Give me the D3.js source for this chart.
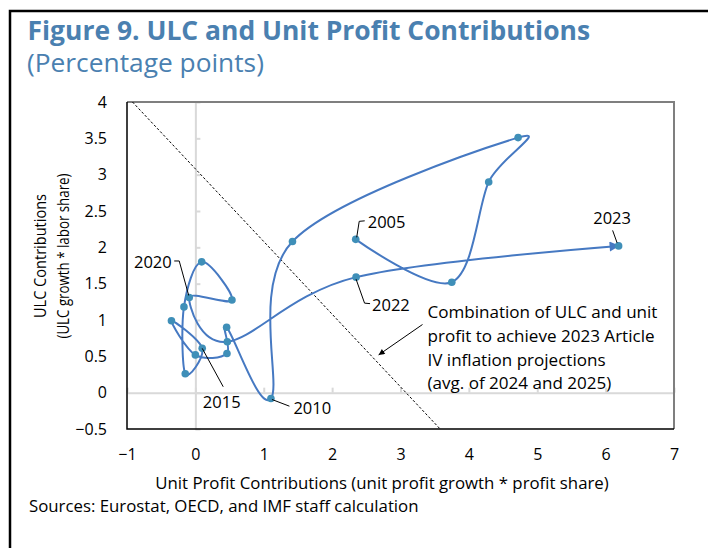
<!DOCTYPE html>
<meta charset="utf-8">
<style>

body {
  margin: 0;
  background: #fff;
}

svg {
  display: block;
  font-family: "Open Sans", sans-serif;
}

.frame {
  fill: none;
  stroke: #000;
  stroke-width: 2.5px;
}

.title {
  fill: #4a80b0;
  font-weight: bold;
  font-size: 23px;
}

.subtitle {
  fill: #4a80b0;
  font-size: 24px;
}

.axis text {
  font-size: 16px;
  fill: #000;
  font-family: "Open Sans", sans-serif;
}

.inner path,
.inner line {
  stroke: #d9d9d9;
  stroke-width: 2px;
}

.path-line {
  fill: none;
  stroke: #4679c2;
  stroke-width: 2px;
}

.dot {
  fill: #3f8fb8;
}

.target {
  fill: none;
  stroke: #000;
  stroke-width: 1px;
  stroke-dasharray: 2.5,2;
}

.leader {
  fill: none;
  stroke: #000;
  stroke-width: 1px;
}

.label {
  font-size: 16px;
  fill: #000;
}

</style>
<body>
<svg width="708" height="548"></svg>
<script src="https://d3js.org/d3.v7.min.js"></script>
<script>

// data (x = unit profit contribution, y = ULC contribution)
var years = [2005, 2006, 2007, 2008, 2009, 2010, 2011, 2012, 2013, 2014,
             2015, 2016, 2017, 2018, 2019, 2020, 2021, 2022, 2023];
var profitContrib = [2.345, 3.75, 4.29, 4.72, 1.42, 1.105, 0.457, 0.462, 0.00, -0.35,
                     0.10, -0.148, -0.167, 0.092, 0.535, -0.09, 0.467, 2.35, 6.19];
var ulcContrib = [2.11, 1.52, 2.90, 3.51, 2.08, -0.08, 0.90, 0.54, 0.52, 0.99,
                  0.61, 0.26, 1.18, 1.80, 1.275, 1.31, 0.70, 1.59, 2.02];

var xTicks = [-1, 0, 1, 2, 3, 4, 5, 6, 7];
var yTicks = [-0.5, 0, 0.5, 1, 1.5, 2, 2.5, 3, 3.5, 4];

// combinations consistent with the projection (x + y ~ 3.08)
var targetX = [-0.92, 3.58];
var targetY = [4, -0.5];

var labelledYears = [2005, 2010, 2015, 2020, 2022, 2023];
var noteLines = ["Combination of ULC and unit",
                 "profit to achieve 2023 Article",
                 "IV inflation projections",
                 "(avg. of 2024 and 2025)"];

var svg = d3.select("svg");

var plot = {left: 127, right: 674, top: 102, bottom: 429};

var x = d3.scaleLinear().domain([-1, 7]).range([plot.left, plot.right]);
var y = d3.scaleLinear().domain([-0.5, 4]).range([plot.bottom, plot.top]);

// shrink/grow a text so it covers the width it has in the original
function fit(sel, width) {
  var w = sel.node().getComputedTextLength();
  var fs = parseFloat(sel.style("font-size"));
  sel.style("font-size", (fs * width / w) + "px");
  return fs * width / w;
}

// outer frame (only left and top visible)
svg.append("path")
    .attr("class", "frame")
    .attr("d", "M10,560V11H720");

fit(svg.append("text")
    .attr("class", "title")
    .attr("x", 27.5)
    .attr("y", 39.5)
    .text("Figure 9. ULC and Unit Profit Contributions"), 563);

fit(svg.append("text")
    .attr("class", "subtitle")
    .attr("x", 27)
    .attr("y", 72)
    .text("(Percentage points)"), 237);

// axes through the origin
svg.append("g")
    .attr("class", "inner")
    .attr("transform", "translate(0," + y(0) + ")")
    .call(d3.axisTop(x).tickValues(xTicks).tickSize(5).tickSizeOuter(0).tickFormat(""));

svg.append("g")
    .attr("class", "inner")
    .attr("transform", "translate(" + x(0) + ",0)")
    .call(d3.axisRight(y).tickValues(yTicks).tickSize(5).tickSizeOuter(0).tickFormat(""));

// tick labels sit outside the plot
var yAxis = svg.append("g")
    .attr("class", "axis")
    .attr("transform", "translate(" + plot.left + ",0)")
    .call(d3.axisLeft(y).tickValues(yTicks).tickSize(0).tickPadding(20).tickFormat(d3.format("")));
yAxis.select(".domain").remove();

var xAxis = svg.append("g")
    .attr("class", "axis")
    .attr("transform", "translate(0," + plot.bottom + ")")
    .call(d3.axisBottom(x).tickValues(xTicks).tickSize(0).tickPadding(20).tickFormat(d3.format("")));
xAxis.select(".domain").remove();

// plot border
svg.append("path")
    .attr("d", "M" + plot.left + "," + plot.top + "H" + plot.right + "V" + plot.bottom)
    .attr("fill", "none")
    .attr("stroke", "#7f7f7f")
    .attr("stroke-width", 2);
svg.append("path")
    .attr("d", "M" + plot.left + "," + plot.top + "V" + plot.bottom + "H" + plot.right)
    .attr("fill", "none")
    .attr("stroke", "#000")
    .attr("stroke-width", 1.5);

// dashed projection line
svg.append("path")
    .attr("class", "target")
    .attr("d", d3.line()(targetX.map(function(v, i) { return [x(v), y(targetY[i])]; })));

// arrow heads
var defs = svg.append("defs");
defs.append("marker")
    .attr("id", "head")
    .attr("viewBox", "0 0 10 10")
    .attr("refX", 9)
    .attr("refY", 5)
    .attr("markerUnits", "userSpaceOnUse")
    .attr("markerWidth", 13)
    .attr("markerHeight", 10)
    .attr("orient", "auto")
  .append("path")
    .attr("d", "M0,0L10,5L0,10z")
    .attr("fill", "#4679c2");
defs.append("marker")
    .attr("id", "blackhead")
    .attr("viewBox", "0 0 10 10")
    .attr("refX", 10)
    .attr("refY", 5)
    .attr("markerUnits", "userSpaceOnUse")
    .attr("markerWidth", 8)
    .attr("markerHeight", 6)
    .attr("orient", "auto")
  .append("path")
    .attr("d", "M0,0L10,5L0,10z")
    .attr("fill", "#000");

var pts = years.map(function(yr, i) {
  return {year: yr, px: x(profitContrib[i]), py: y(ulcContrib[i])};
});

// Excel-style smoothed line
svg.append("path")
    .attr("class", "path-line")
    .attr("marker-end", "url(#head)")
    .attr("d", d3.line()
      .x(function(d) { return d.px; })
      .y(function(d) { return d.py; })
      .curve(d3.curveCardinal.tension(0))(pts));

svg.selectAll(".dot")
    .data(pts)
  .enter().append("circle")
    .attr("class", "dot")
    .attr("cx", function(d) { return d.px; })
    .attr("cy", function(d) { return d.py; })
    .attr("r", 3.8);

// year labels: leader path and text, relative to the point
var labelPos = {
  2005: {leader: [[1, -2], [3.5, -18], [9, -18.5]], tx: 12, ty: -17, anchor: "start"},
  2010: {leader: [[1, 1], [18.5, 7.7]], tx: 22.5, ty: 10, anchor: "start"},
  2015: {leader: [[0, 0], [21, 38.4]], tx: 19.5, ty: 53.5, anchor: "middle"},
  2020: {leader: [[-0.5, -2], [-10, -36.5], [-15, -36.5]], tx: -17.5, ty: -35.5, anchor: "end"},
  2022: {leader: [[0, 2], [8.5, 26], [14, 26.5]], tx: 16, ty: 28.5, anchor: "start"},
  2023: {leader: [[-1.5, -3], [-6, -15.5]], tx: -6.5, ty: -28, anchor: "middle"}
};

var labelled = pts.filter(function(d) { return labelledYears.indexOf(d.year) >= 0; });

svg.selectAll(".leader")
    .data(labelled)
  .enter().append("path")
    .attr("class", "leader")
    .attr("d", function(d) {
      return d3.line()(labelPos[d.year].leader.map(function(o) { return [d.px + o[0], d.py + o[1]]; }));
    });

svg.selectAll(".label")
    .data(labelled)
  .enter().append("text")
    .attr("class", "label")
    .style("font-size", "16.5px")
    .attr("x", function(d) { return d.px + labelPos[d.year].tx; })
    .attr("y", function(d) { return d.py + labelPos[d.year].ty; })
    .attr("dy", "0.35em")
    .attr("text-anchor", function(d) { return labelPos[d.year].anchor; })
    .text(function(d) { return d.year; });

// note on the dashed line, one text per line
var noteSize = fit(svg.append("text")
    .attr("class", "label")
    .attr("x", 427.5)
    .attr("y", 312)
    .attr("dy", "0.35em")
    .text(noteLines[0]), 230);

svg.selectAll(".note")
    .data(noteLines.slice(1))
  .enter().append("text")
    .attr("class", "label note")
    .style("font-size", noteSize + "px")
    .attr("x", 427.5)
    .attr("y", function(d, i) { return 312 + (i + 1) * 23.8; })
    .attr("dy", "0.35em")
    .text(function(d) { return d; });

svg.append("path")
    .attr("class", "leader")
    .attr("marker-end", "url(#blackhead)")
    .attr("d", d3.line()([[422.5, 324.5], [x(2.68), y(0.52)]]));

// axis titles and source
var titleSize = fit(svg.append("text")
    .attr("class", "label")
    .attr("x", 382)
    .attr("y", 483)
    .attr("dy", "0.35em")
    .attr("text-anchor", "middle")
    .text("Unit Profit Contributions (unit profit growth * profit share)"), 454);

svg.append("text")
    .attr("class", "label")
    .style("font-size", titleSize + "px")
    .attr("transform", "translate(40,256)rotate(-90)")
    .attr("dy", "0.35em")
    .attr("text-anchor", "middle")
    .attr("textLength", 124)
    .attr("lengthAdjust", "spacingAndGlyphs")
    .text("ULC Contributions");

svg.append("text")
    .attr("class", "label")
    .style("font-size", titleSize + "px")
    .attr("transform", "translate(63,256)rotate(-90)")
    .attr("dy", "0.35em")
    .attr("text-anchor", "middle")
    .attr("textLength", 165)
    .attr("lengthAdjust", "spacingAndGlyphs")
    .text("(ULC growth * labor share)");

fit(svg.append("text")
    .attr("class", "label")
    .attr("x", 29)
    .attr("y", 506)
    .attr("dy", "0.35em")
    .text("Sources: Eurostat, OECD, and IMF staff calculation"), 390);

</script>
